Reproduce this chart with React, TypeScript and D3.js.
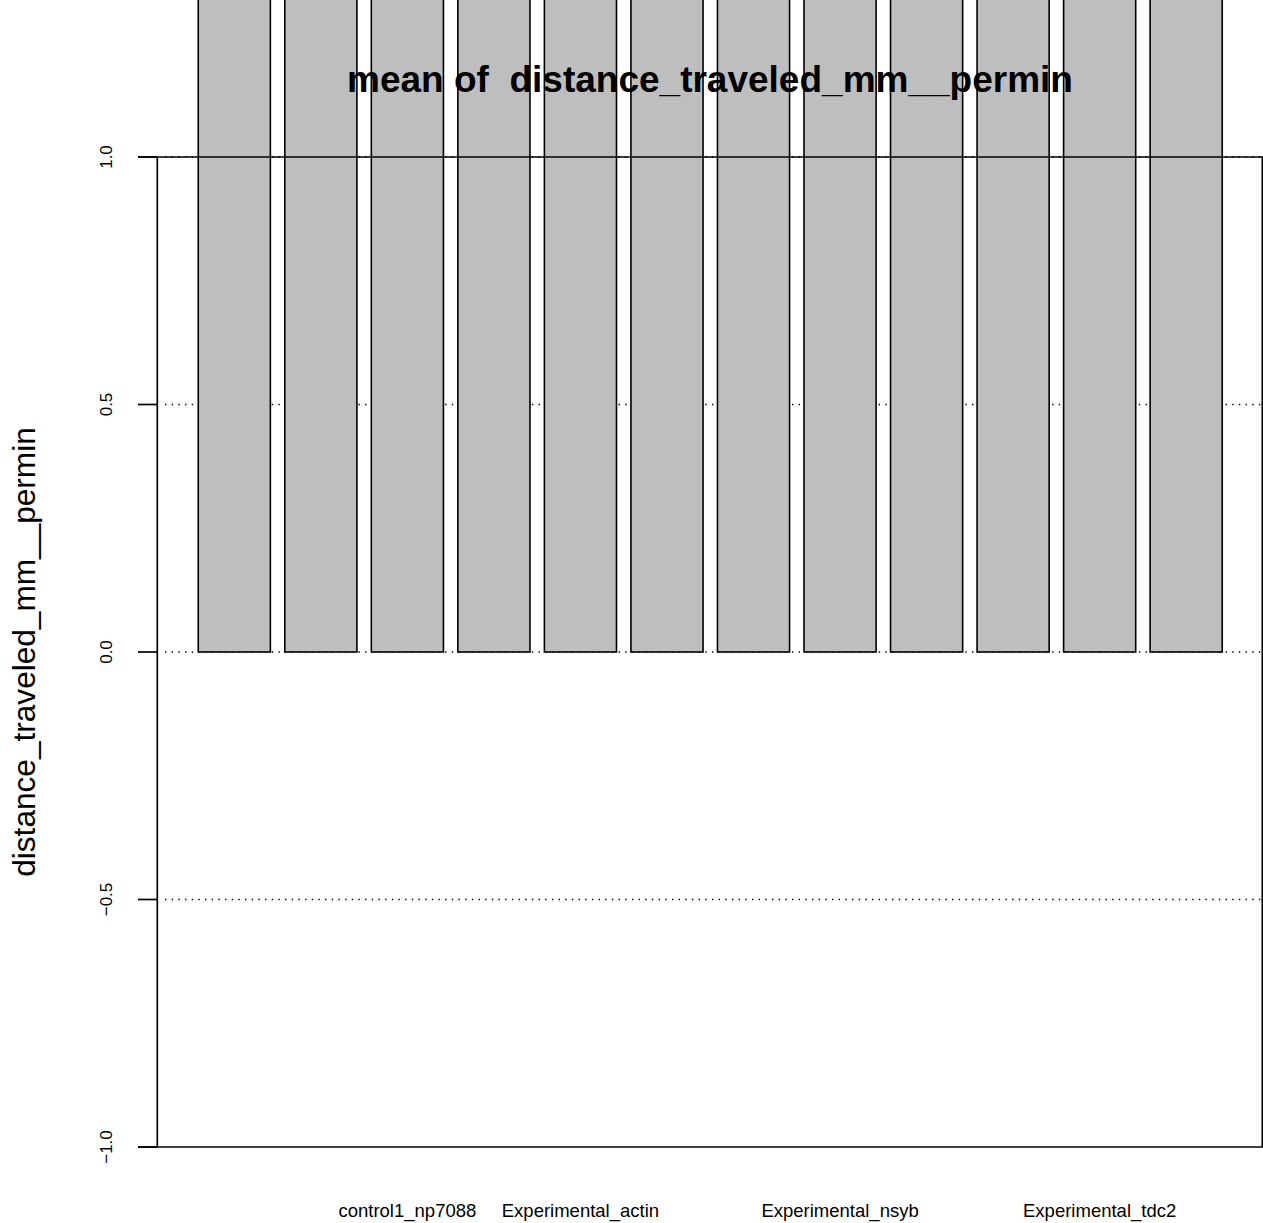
import React from "react";
import * as d3 from "d3";

// ---- data ----
const categories: string[] = [
  "", "", "control1_np7088", "", "Experimental_actin", "", "",
  "Experimental_nsyb", "", "", "Experimental_tdc2", "",
];
// all bars run off the top of the picture (> 1.32); values estimated
const meanValues: number[] = [1.5, 1.5, 1.5, 1.5, 1.5, 1.5, 1.5, 1.5, 1.5, 1.5, 1.5, 1.5];
const yTicks: number[] = [-1, -0.5, 0, 0.5, 1];
const gridValues: number[] = [-0.5, 0, 0.5, 1];
const titleText = "mean of  distance_traveled_mm__permin";
const yLabel = "distance_traveled_mm__permin";

const W = 1263;
const H = 1223;
const FONT = "'Liberation Sans', Arial, Helvetica, sans-serif";

export default function App() {
  const x = d3.scaleLinear().domain([-0.368, 14.968]).range([157.3, 1263.2]);
  const y = d3.scaleLinear().domain([-1, 1]).range([1147, 157]);
  const fmt = d3.format(".1f");
  const left = 157.3;
  const right = 1262.3;

  return (
    <svg
      width={W}
      height={H}
      style={{ position: "absolute", top: 0, left: 0, background: "#fff" }}
      xmlns="http://www.w3.org/2000/svg"
    >
      <rect x={0} y={0} width={W} height={H} fill="#fff" />
      {/* dotted grid */}
      {gridValues.map((v) => (
        <line
          key={"g" + v}
          x1={165}
          x2={right}
          y1={y(v)}
          y2={y(v)}
          stroke="#000"
          strokeWidth={1.4}
          strokeDasharray="1.4 5.27"
        />
      ))}
      {/* bars */}
      {meanValues.map((v, i) => {
        const x0 = x(0.2 + 1.2 * i);
        const x1 = x(1.2 + 1.2 * i);
        const top = Math.min(y(v), y(0));
        return (
          <rect
            key={"b" + i}
            x={x0}
            y={top}
            width={x1 - x0}
            height={Math.abs(y(0) - y(v))}
            fill="#BEBEBE"
            stroke="#000"
            strokeWidth={1.6}
          />
        );
      })}
      {/* box */}
      <line x1={138} x2={W} y1={y(1)} y2={y(1)} stroke="#000" strokeWidth={1.7} />
      <line x1={138} x2={W} y1={y(-1)} y2={y(-1)} stroke="#000" strokeWidth={1.7} />
      <line x1={left} x2={left} y1={y(1)} y2={y(-1)} stroke="#000" strokeWidth={1.7} />
      <line x1={right} x2={right} y1={y(1)} y2={y(-1)} stroke="#000" strokeWidth={1.7} />
      {/* y ticks */}
      {yTicks.map((v) => (
        <g key={"t" + v}>
          <line x1={138} x2={left} y1={y(v)} y2={y(v)} stroke="#000" strokeWidth={1.7} />
          <text
            transform={`translate(112,${y(v)}) rotate(-90)`}
            textAnchor="middle"
            fontFamily={FONT}
            fontSize={17}
            fill="#000"
          >
            {fmt(v)}
          </text>
        </g>
      ))}
      {/* x labels */}
      {categories.map((c, i) =>
        c ? (
          <text
            key={"x" + i}
            x={x(0.7 + 1.2 * i)}
            y={1217}
            textAnchor="middle"
            fontFamily={FONT}
            fontSize={18.5}
            fill="#000"
          >
            {c}
          </text>
        ) : null
      )}
      {/* y label */}
      <text
        transform={`translate(35,652) rotate(-90)`}
        textAnchor="middle"
        fontFamily={FONT}
        fontSize={31.6}
        fill="#000"
      >
        {yLabel}
      </text>
      {/* title */}
      <text
        x={710}
        y={92}
        textAnchor="middle"
        fontFamily={FONT}
        fontSize={37}
        fontWeight="bold"
        fill="#000"
        style={{ whiteSpace: "pre" }}
        xmlSpace="preserve"
      >
        {titleText}
      </text>
    </svg>
  );
}
